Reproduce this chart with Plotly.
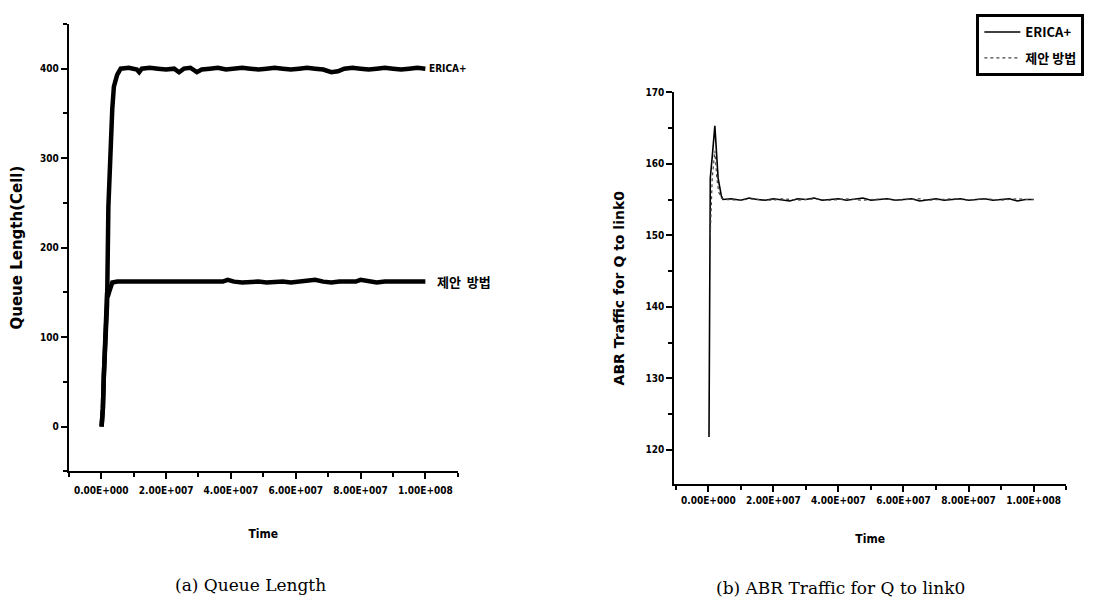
import plotly.graph_objects as go

# ---------------- data ----------------
x_tickvals = [0, 2e7, 4e7, 6e7, 8e7, 1e8]
x_ticktext = ["0.00E+000", "2.00E+007", "4.00E+007", "6.00E+007", "8.00E+007", "1.00E+008"]

# (a) Queue Length  (time in units of 1e6)
qa_t_erica = [0.1, 0.5, 0.8, 1.3, 1.8, 2.2, 2.9, 3.4, 3.9, 4.9,
              6, 8.5, 11, 11.7, 12.5, 15, 17.5, 20, 22.5, 24,
              25.5, 27.5, 29.5, 31, 33.5, 36, 38.5, 41, 43.5, 46,
              48.5, 51, 53.5, 56, 58.5, 61, 63.5, 66, 68.5, 71,
              73, 75, 77.5, 80, 82.5, 85, 87.5, 90, 92.5, 95,
              97.5, 100]
qa_erica = [0, 20, 57, 100, 137, 246, 319, 355, 380, 393,
            400, 401, 399, 396, 400, 401, 400, 399, 400, 396,
            400, 401, 396, 399, 400, 401, 399, 400, 401, 400,
            399, 400, 401, 400, 399, 400, 401, 400, 399, 396,
            397, 400, 401, 400, 399, 400, 401, 400, 399, 400,
            401, 400]

qa_t_prop = [0.1, 0.5, 0.8, 1.3, 1.6, 1.8, 2.0, 2.4, 3.0, 3.4,
             5, 7.5, 10, 12.5, 15, 17.5, 20, 22.5, 25, 27.5,
             30, 32.5, 35, 37.5, 39, 41, 43.5, 46, 48.5, 51,
             53.5, 56, 58.5, 61, 63.5, 66, 68.5, 71, 73.5, 76,
             78.5, 80, 82.5, 85, 87.5, 90, 92.5, 95, 97.5, 100]
qa_prop = [0, 20, 57, 100, 140, 150, 145, 150, 158, 161,
           162, 162, 161, 162, 162, 161, 162, 162, 161, 162,
           162, 161, 162, 162, 164, 162, 161, 162, 162, 161,
           162, 162, 161, 162, 162, 164, 162, 161, 162, 162,
           162, 164, 162, 161, 162, 162, 161, 162, 162, 162]

# (b) ABR Traffic for Q to link0 (time in units of 1e6)
qb_t_erica = [0.2, 0.6, 1.2, 2.0, 3.0, 4.0, 4.5,
              7, 10, 12.5, 15, 17.5, 20, 22.5, 25, 27.5, 30,
              32.5, 35, 37.5, 40, 42.5, 45, 47.5, 50, 52.5, 55,
              57.5, 60, 62.5, 65, 67.5, 70, 72.5, 75, 77.5, 80,
              82.5, 85, 87.5, 90, 92.5, 95, 97.5, 100]
qb_erica = [121.8, 158, 161, 165.3, 158, 155.5, 155,
            155.1, 154.9, 155.2, 155, 154.9, 155.1, 155, 154.8, 155.1, 155,
            155.2, 154.9, 155, 155.1, 154.9, 155, 155.2, 154.9, 155, 155.1,
            154.9, 155, 155.1, 154.8, 155, 155.1, 154.9, 155, 155.1, 154.9,
            155, 155.1, 154.9, 155, 155.1, 154.8, 155, 155]

qb_t_prop = [0.6, 1.2, 2.0, 2.6, 3.2, 4.0, 5.0,
             7.5, 10, 12.5, 15, 17.5, 20, 22.5, 25, 27.5, 30,
             32.5, 35, 37.5, 40, 42.5, 45, 47.5, 50, 52.5, 55,
             57.5, 60, 62.5, 65, 67.5, 70, 72.5, 75, 77.5, 80,
             82.5, 85, 87.5, 90, 92.5, 95, 97.5, 100]
qb_prop = [150, 158, 161.8, 158, 156, 155.2, 155,
           155, 154.9, 155.1, 155, 155, 154.9, 155.1, 155, 154.9, 155,
           155.1, 155, 154.9, 155, 155.1, 155, 154.9, 155, 155, 155.1,
           154.9, 155, 155, 155.1, 154.9, 155, 155, 155.1, 155, 154.9,
           155, 155.1, 155, 154.9, 155, 155.1, 155, 155]

TIME_UNIT = 1e6
name_erica = "ERICA+"
name_prop = "제안 방법"

# ---------------- figure ----------------
BOLD_C = "DejaVu Sans Condensed"
KR = "Noto Sans CJK KR"

def scale(ts):
    return [v * TIME_UNIT for v in ts]

fig = go.Figure()
fig.add_trace(go.Scatter(x=scale(qa_t_erica), y=qa_erica, mode="lines", name=name_erica,
                         line=dict(color="black", width=4.5), showlegend=False,
                         xaxis="x", yaxis="y"))
fig.add_trace(go.Scatter(x=scale(qa_t_prop), y=qa_prop, mode="lines", name=name_prop,
                         line=dict(color="black", width=4.5), showlegend=False,
                         xaxis="x", yaxis="y"))
fig.add_trace(go.Scatter(x=scale(qb_t_erica), y=qb_erica, mode="lines", name=name_erica,
                         line=dict(color="black", width=1.6), legendgroup="a",
                         xaxis="x2", yaxis="y2"))
fig.add_trace(go.Scatter(x=scale(qb_t_prop), y=qb_prop, mode="lines", name=name_prop,
                         line=dict(color="#444", width=1.2, dash="dot"), legendgroup="b",
                         xaxis="x2", yaxis="y2"))

axis_common = dict(showline=True, linecolor="black", linewidth=2, ticks="outside",
                   tickwidth=2, ticklen=6, tickcolor="black", showgrid=False, zeroline=False,
                   tickfont=dict(family=BOLD_C, size=10, color="black", weight="bold"))

# page has an 8px body margin: figure pixel = page pixel - 8
OFF = 8
W, H = 1111 - OFF, 601 - OFF

def px(v):
    return (v - OFF) / W

def py(v):
    return 1 - (v - OFF) / H

fig.update_layout(
    width=W, height=H, margin=dict(l=0, r=0, t=0, b=0),
    paper_bgcolor="white", plot_bgcolor="white",
    xaxis=dict(domain=[px(66), px(456)], range=[-1e7, 1.1e8], anchor="y",
               tickvals=x_tickvals, ticktext=x_ticktext, ticklabelstandoff=3,
               minor=dict(dtick=1e7, ticks="outside", ticklen=4, tickwidth=1.5, tickcolor="black"),
               title=dict(text="Time", standoff=34,
                          font=dict(family=BOLD_C, size=12, color="black", weight="bold")),
               **axis_common),
    yaxis=dict(domain=[py(470), py(18)], range=[-50, 450], anchor="x",
               tickvals=[0, 100, 200, 300, 400],
               minor=dict(dtick=50, ticks="outside", ticklen=4, tickwidth=1.5, tickcolor="black"),
               title=dict(text="Queue Length(Cell)", standoff=22,
                          font=dict(family="DejaVu Sans", size=15, color="black", weight="bold")),
               **axis_common),
    xaxis2=dict(domain=[px(673), px(1066)], range=[-1.05e7, 1.1e8], anchor="y2",
                tickvals=x_tickvals, ticktext=x_ticktext,
                minor=dict(dtick=1e7, ticks="outside", ticklen=4, tickwidth=1.5, tickcolor="black"),
                title=dict(text="Time", standoff=29,
                           font=dict(family=BOLD_C, size=12, color="black", weight="bold")),
                **axis_common),
    yaxis2=dict(domain=[py(483), py(87)], range=[115.2, 170], anchor="x2",
                tickvals=[120, 130, 140, 150, 160, 170],
                minor=dict(dtick=5, ticks="outside", ticklen=4, tickwidth=1.5, tickcolor="black"),
                title=dict(text="ABR Traffic for Q to link0", standoff=18,
                           font=dict(family="DejaVu Sans", size=14, color="black", weight="bold")),
                **axis_common),
    legend=dict(x=px(976), y=1.0, xanchor="left", yanchor="top",
                bordercolor="black", borderwidth=3, bgcolor="white",
                tracegroupgap=6, itemwidth=36,
                font=dict(family=KR, size=13, color="black", weight="bold")),
)

fig.add_annotation(x=qa_t_erica[-1] * TIME_UNIT, y=qa_erica[-1], xref="x", yref="y",
                   text=name_erica, showarrow=False, xanchor="left", xshift=2,
                   font=dict(family=BOLD_C, size=10, color="black", weight="bold"))
fig.add_annotation(x=qa_t_prop[-1] * TIME_UNIT, y=qa_prop[-1], xref="x", yref="y",
                   text="제안  방법", showarrow=False, xanchor="left", xshift=10,
                   font=dict(family=KR, size=13, color="black", weight="bold"))

fig.add_annotation(x=px(248), y=py(585), xref="paper", yref="paper",
                   text="(a) Queue Length", showarrow=False, xanchor="center", yanchor="middle",
                   font=dict(family="DejaVu Serif", size=17, color="black"))
fig.add_annotation(x=px(840), y=py(588), xref="paper", yref="paper",
                   text="(b) ABR Traffic for Q to link0", showarrow=False, xanchor="center",
                   yanchor="middle",
                   font=dict(family="DejaVu Serif", size=17, color="black"))

fig.write_html("out.html")
